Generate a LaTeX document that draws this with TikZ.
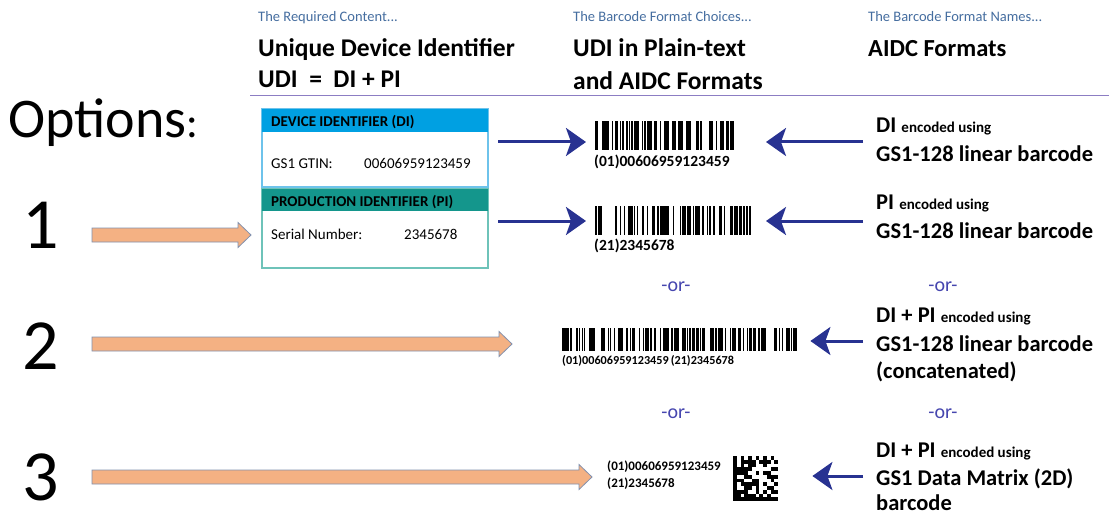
\documentclass[tikz,border=0pt]{standalone}
\usepackage{fontspec}
\setmainfont{Carlito}
\usetikzlibrary{arrows.meta,calc}
\definecolor{hdrblue}{RGB}{70,110,160}
\definecolor{rulepurple}{RGB}{140,125,195}
\definecolor{navy}{RGB}{40,50,145}
\definecolor{orfill}{RGB}{244,177,131}
\definecolor{oredge}{RGB}{130,145,175}
\definecolor{diblue}{RGB}{0,160,226}
\definecolor{diedge}{RGB}{110,195,235}
\definecolor{piteal}{RGB}{20,150,140}
\definecolor{piedge}{RGB}{110,195,185}
\definecolor{orblue}{RGB}{70,70,175}
\newcommand\fsz[2]{\fontsize{#1}{#2}\selectfont}
\newcommand\drawbars[5]{% x0 y0 width height seed
  \pgfmathsetseed{#5}
  \pgfmathtruncatemacro\nmod{#3/1.3}
  \foreach \i in {0,...,\nmod}{
    \pgfmathtruncatemacro\bk{rnd<0.55 ? 1 : 0}
    \ifnum\bk=1 \fill[black] ({#1+\i*1.3},#2) rectangle ++(1.3,#4);\fi
  }
  \fill[black] (#1,#2) rectangle ++(2,#4);
  \fill[black] ({#1+#3-2},#2) rectangle ++(2,#4);
}
\tikzset{
  every node/.style={inner sep=0pt},
  smallhdr/.style={anchor=base west,text=hdrblue,font=\fsz{14.5}{16}},
  bighdr/.style={anchor=base west,font=\bfseries\fsz{25.5}{28}},
  rtext/.style={anchor=base west,font=\bfseries\fsz{22.5}{26}},
  num/.style={anchor=base west,font=\fsz{72}{80}},
  fat/.style={fill=orfill,draw=oredge,line width=0.8pt},
  bluearrow/.style={draw=navy,line width=3pt,-{Stealth[length=20pt,width=28pt,inset=5pt]}},
  ortext/.style={anchor=base,text=orblue,font=\fsz{20}{24}},
  boxtxt/.style={anchor=base west,font=\fsz{15}{17}},
  boxhdr/.style={anchor=base west,font=\bfseries\fsz{15}{17}},
  bclabel/.style={anchor=base west,font=\bfseries\fsz{15.5}{17}},
  dmlabel/.style={anchor=base west,font=\bfseries\fsz{13}{15}},
}
\newcommand\fatarrow[2]{%
  \path let \p1=(#1), \p2=(#2) in
    [fat] (\x1,\y1+7pt) -- (\x2-13pt,\y1+7pt) -- (\x2-13pt,\y1+12.5pt) -- (\x2,\y1)
      -- (\x2-13pt,\y1-12.5pt) -- (\x2-13pt,\y1-7pt) -- (\x1,\y1-7pt) -- cycle;}
\begin{document}
\begin{tikzpicture}[x=1pt,y=-1pt]
\useasboundingbox[fill=white] (0,0) rectangle (1109,516);
% headers
\node[smallhdr] (h1s) at (258,22) {The Required Content...};
\node[smallhdr] (h2s) at (573,22) {The Barcode Format Choices...};
\node[smallhdr] (h3s) at (868,22) {The Barcode Format Names...};
\node[bighdr] (h1a) at (258,57) {Unique Device Identifier};
\node[bighdr] (h1b) at (258,88) {UDI\ \ =\ \ DI + PI};
\node[bighdr] (h2a) at (573,57) {UDI in Plain-text};
\node[bighdr] (h2b) at (573,90) {and AIDC Formats};
\node[bighdr,font=\bfseries\fsz{24.5}{28}] (h3a) at (868,57) {AIDC Formats};
\draw[rulepurple,line width=1.5pt] (250,95.5) coordinate (rl) -- (1109,95.5) coordinate (rr);
% options
\node[anchor=base west,font=\fsz{56}{60}] (opt) at (8,138) {Options{\fsz{44}{50}:}};
\node[num] (n1) at (22,248) {1};
\node[num] (n2) at (22,369) {2};
\node[num] (n3) at (22,500) {3};
% DI / PI boxes
\draw[diedge,line width=1.3pt] (262,109) rectangle (488,187);
\fill[diblue] (262,109) rectangle (488,132);
\node[boxhdr] (dih) at (271,127) {DEVICE IDENTIFIER (DI)};
\node[boxtxt] (gtin) at (271,168) {GS1 GTIN:};
\node[boxtxt] (gtinv) at (364,168) {00606959123459};
\draw[piedge,line width=1.3pt] (262,189) rectangle (488,268);
\fill[piteal] (262,189) rectangle (488,211);
\node[boxhdr] (pih) at (271,206) {PRODUCTION IDENTIFIER (PI)};
\node[boxtxt] (sn) at (271,240) {Serial Number:};
\node[boxtxt] (snv) at (404,240) {2345678};
% orange arrows
\coordinate (o1s) at (92,235); \coordinate (o1e) at (251,235);
\coordinate (o2s) at (92,344); \coordinate (o2e) at (512,344);
\coordinate (o3s) at (92,477); \coordinate (o3e) at (592,477);
\fatarrow{o1s}{o1e}
\fatarrow{o2s}{o2e}
\fatarrow{o3s}{o3e}
% barcodes
\node[minimum width=139pt,minimum height=29pt,anchor=north west] (bc1) at (595,121) {};
\drawbars{595}{121}{139}{29}{17}
\node[bclabel] (bc1t) at (594,167) {(01)00606959123459};
\node[minimum width=156pt,minimum height=29pt,anchor=north west] (bc2) at (595,206) {};
\drawbars{595}{206}{156}{29}{33}
\node[bclabel] (bc2t) at (594,250) {(21)2345678};
\node[minimum width=235pt,minimum height=23pt,anchor=north west] (bc3) at (562,328) {};
\drawbars{562}{328}{235}{23}{51}
\node[anchor=base west,font=\bfseries\fsz{12.2}{14}] (bc3t) at (562,364) {(01)00606959123459\,(21)2345678};
\node[dmlabel] (dm1) at (607,470) {(01)00606959123459};
\node[dmlabel] (dm2) at (607,487) {(21)2345678};
% data matrix
\node[minimum width=45pt,minimum height=45pt,anchor=north west] (dm) at (733,456) {};
\begin{scope}
\pgfmathsetseed{7}
\foreach \r in {0,...,11}{\foreach \c in {0,...,11}{
  \pgfmathtruncatemacro\bk{(\c==0 || \r==11) ? 1 : ((\r==0) ? (mod(\c+1,2)) : ((\c==11) ? mod(\r,2) : (rnd<0.5 ? 1 : 0)))}
  \ifnum\bk=1 \fill[black] ({733+\c*3.75},{456+\r*3.75}) rectangle ++(3.8,3.8);\fi
}}
\end{scope}
% blue arrows
\coordinate (la1) at (498,142); \coordinate (la2) at (498,221);
\draw[bluearrow] (la1) -- ([xshift=-9pt]bc1.west |- la1);
\draw[bluearrow] (la2) -- ([xshift=-9pt]bc2.west |- la2);
% right texts
\node[anchor=base west] (r1a) at (876,133) {\bfseries\fsz{22.5}{26}DI \fsz{15}{17}encoded using};
\node[rtext] (r1b) at (876,162) {GS1-128 linear barcode};
\node[anchor=base west] (r2a) at (876,210) {\bfseries\fsz{22.5}{26}PI \fsz{15}{17}encoded using};
\node[rtext] (r2b) at (876,238) {GS1-128 linear barcode};
\node[anchor=base west] (r3a) at (876,322) {\bfseries\fsz{22.5}{26}DI + PI \fsz{15}{17}encoded using};
\node[rtext] (r3b) at (876,351) {GS1-128 linear barcode};
\node[rtext] (r3c) at (876,378) {(concatenated)};
\node[anchor=base west] (r4a) at (876,457) {\bfseries\fsz{22.5}{26}DI + PI \fsz{15}{17}encoded using};
\node[rtext] (r4b) at (876,485) {GS1 Data Matrix (2D)};
\node[rtext] (r4c) at (876,510) {barcode};
\coordinate (ra1) at (863,142); \coordinate (ra2) at (863,221);
\coordinate (ra3) at (863,341); \coordinate (ra4) at (863,476);
\draw[bluearrow] (ra1) -- (766,142);
\draw[bluearrow] (ra2) -- (766,221);
\draw[bluearrow] (ra3) -- ([xshift=13pt]bc3.east |- ra3);
\draw[bluearrow] (ra4) -- ([xshift=34pt]dm.east |- ra4);
% -or-
\node[ortext] (or1) at (676,291) {-or-};
\node[ortext] (or2) at (943,291) {-or-};
\node[ortext] (or3) at (676,418) {-or-};
\node[ortext] (or4) at (943,418) {-or-};
\end{tikzpicture}
\end{document}
